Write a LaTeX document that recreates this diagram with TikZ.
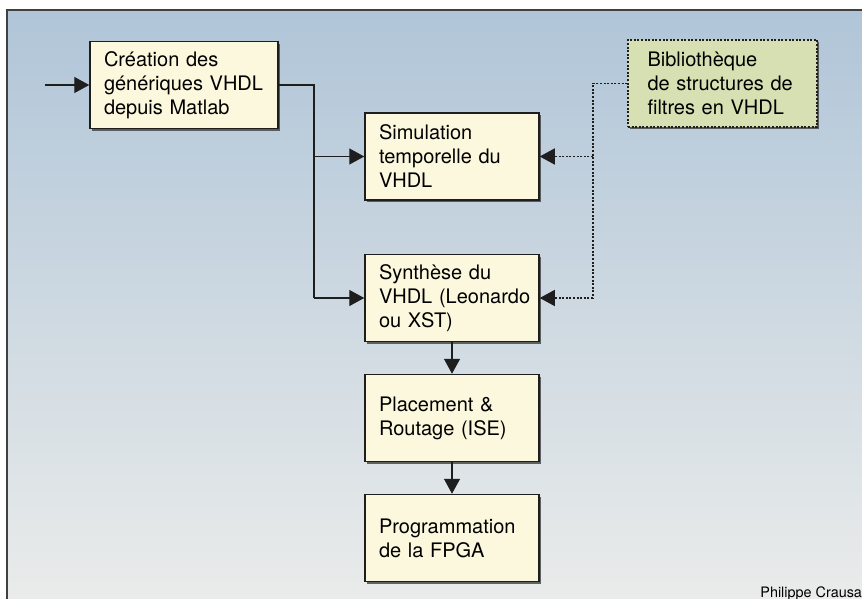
\documentclass[tikz,border=0pt]{standalone}
\usepackage{fontspec}
\setmainfont{TeX Gyre Heros}
\usetikzlibrary{arrows.meta,shadows}
\definecolor{fondhaut}{HTML}{B0C5D8}
\definecolor{fondbas}{HTML}{ECEDEB}
\definecolor{creme}{HTML}{FCF8DE}
\definecolor{vertpale}{HTML}{D6E0B2}
\definecolor{trait}{HTML}{1E1E1E}
\begin{document}
\begin{tikzpicture}[x=0.5pt,y=-0.5pt,
  >={Triangle[length=7.5pt,width=8pt]},
  lien/.style={draw=trait,line width=0.7pt},
  pointille/.style={lien,dash pattern=on 1pt off 0.8pt},
  etape/.style={rectangle,draw=trait,line width=0.75pt,fill=creme,
    text width=73pt,inner xsep=7pt,minimum width=87pt,minimum height=43.5pt,
    align=left,font=\fontsize{10}{12}\selectfont,
    drop shadow={shadow xshift=1.2pt,shadow yshift=-1.2pt,fill=black!75,opacity=0.8}},
  biblio/.style={etape,fill=vertpale,dash pattern=on 1pt off 0.8pt,
    text width=75pt,inner xsep=9.75pt,minimum width=94.5pt}]
\useasboundingbox (0,0) rectangle (862,599);
\clip (0,0) rectangle (862,599);
\shade[top color=fondhaut,bottom color=fondbas] (7,10) rectangle (880,620);
\draw[trait!85,line width=0.8pt] (7,10) rectangle (880,620);

\node[etape,text width=80pt,minimum width=94pt] (crea) at (184,85) {Création des\\génériques VHDL\\depuis Matlab};
\node[etape] (simu) at (452,156.5) {Simulation\\temporelle du\\VHDL};
\node[etape] (synth) at (452,298) {Synthèse du\\\mbox{VHDL (Leonardo}\\ou XST)};
\node[etape] (place) at (452,418) {Placement \&\\Routage (ISE)};
\node[etape] (prog) at (452,538) {Programmation\\de la FPGA};
\node[biblio] (lib) at (722.5,83.5) {Bibliothèque\\de structures de\\filtres en VHDL};

\coordinate (entree) at (45,85);
\coordinate (fourche) at (314,298);
\coordinate (fourchelib) at (593,298);

\draw[lien,->] (entree) -- (crea.west);
\draw[lien] (crea.east) -| (fourche);
\draw[lien,->] (fourche |- simu.west) -- (simu.west);
\draw[lien,->] (fourche) -- (synth.west);
\draw[pointille] (lib.west) -| (fourchelib);
\draw[pointille,->] (fourchelib |- simu.east) -- (simu.east);
\draw[pointille,->] (fourchelib) -- (synth.east);
\draw[lien,->] (synth) -- (place);
\draw[lien,->] (place) -- (prog);

\node[anchor=base west,inner sep=0pt,font=\fontsize{7.2}{8}\selectfont] (signature) at (760,597) {Philippe Crausa};
\end{tikzpicture}
\end{document}
